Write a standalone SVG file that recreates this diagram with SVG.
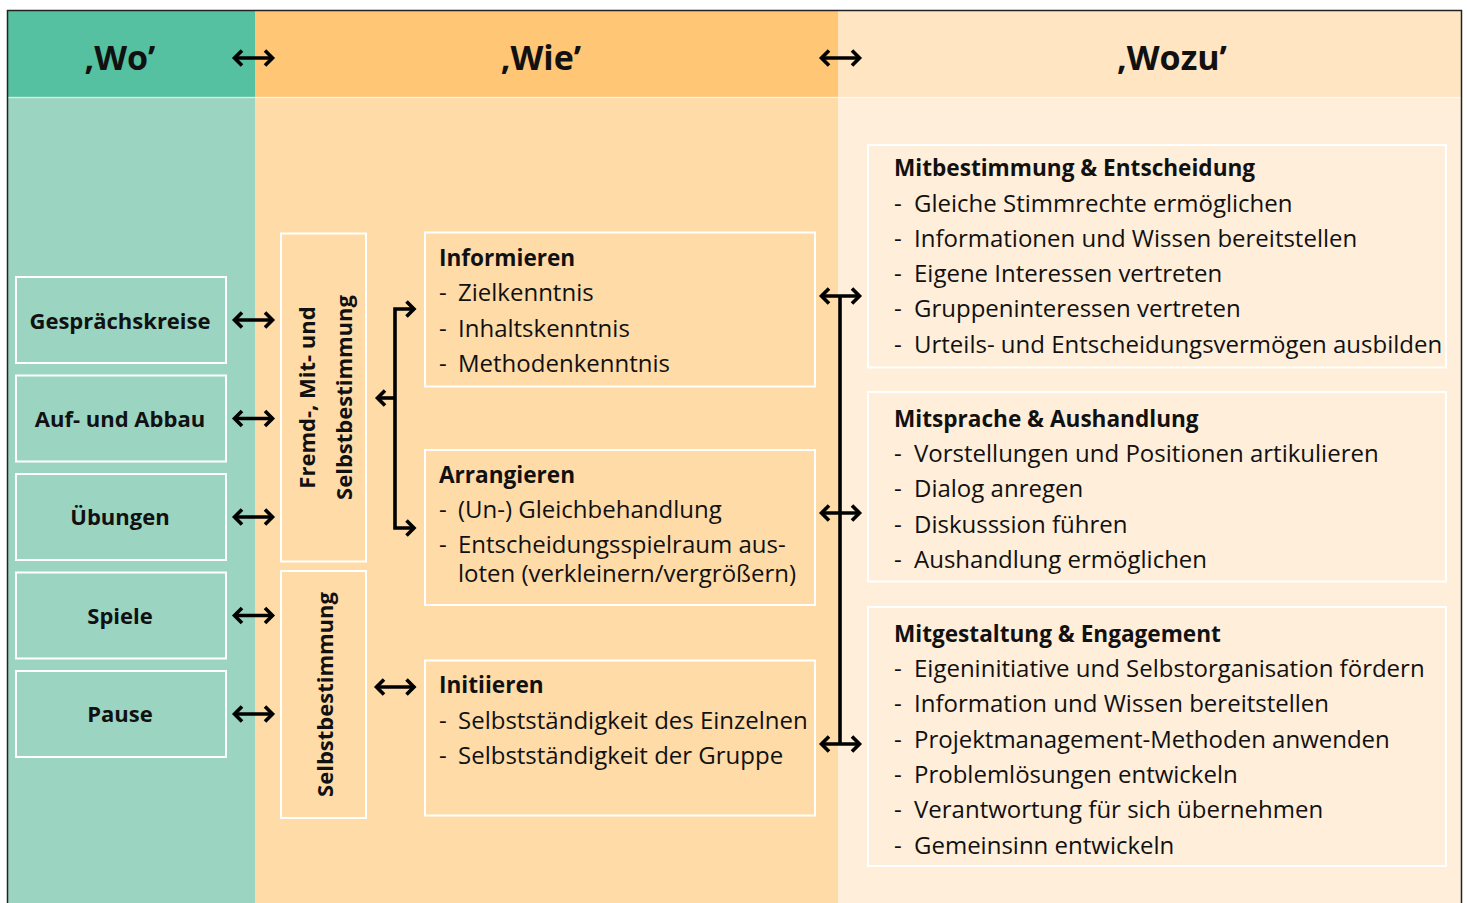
<svg xmlns="http://www.w3.org/2000/svg" width="1467" height="903" viewBox="0 0 1467 903">
<style>
text{font-family:"Open Sans","Noto Sans","Liberation Sans",sans-serif;fill:#111;}
.h{font-size:34px;font-weight:700;text-anchor:middle;}
.b{font-size:22px;font-weight:700;}
.bt{font-size:22.6px;font-weight:700;}
.c{text-anchor:middle;}
.t{font-size:24px;}
.box{fill:none;stroke:#fff;stroke-width:2;}
.con{fill:none;stroke:#000;stroke-width:3.6;}
.arr{marker-start:url(#ah);marker-end:url(#ah);}
</style>
<defs>
<marker id="ah" viewBox="0 0 12 18" refX="10" refY="9" markerWidth="12" markerHeight="18" markerUnits="userSpaceOnUse" orient="auto-start-reverse" overflow="visible">
<path d="M2.5,1.5 L10,9 L2.5,16.5" fill="none" stroke="#000" stroke-width="3.6"/>
</marker>
</defs>
<rect x="0" y="0" width="1467" height="903" fill="#fff"/>
<rect x="7.5" y="10.5" width="248" height="87" fill="#55C1A0"/>
<rect x="255" y="10.5" width="583" height="87" fill="#FFC675"/>
<rect x="838" y="10.5" width="623.5" height="87" fill="#FFE5C1"/>
<rect x="7.5" y="97.5" width="248" height="806" fill="#9BD4C1"/>
<rect x="255" y="97.5" width="583" height="806" fill="#FFDBA8"/>
<rect x="838" y="97.5" width="623.5" height="806" fill="#FFEED9"/>
<line x1="7.5" y1="97.5" x2="1461.5" y2="97.5" stroke="#fff" stroke-opacity="0.55" stroke-width="1.5"/>
<path d="M7.5,903 V10.5 H1461.5 V903" fill="none" stroke="#222" stroke-width="1.5"/>
<text class="h" x="120" y="70">‚Wo’</text>
<text class="h" x="541" y="70">‚Wie’</text>
<text class="h" x="1172" y="70">‚Wozu’</text>

<g id="gespraechskreise"><rect class="box" x="16" y="277" width="210" height="86"/><text class="b c" x="120" y="329">Gesprächskreise</text></g>
<g id="aufabbau"><rect class="box" x="16" y="375.5" width="210" height="86"/><text class="b c" x="120" y="427">Auf- und Abbau</text></g>
<g id="uebungen"><rect class="box" x="16" y="474" width="210" height="86"/><text class="b c" x="120" y="525">Übungen</text></g>
<g id="spiele"><rect class="box" x="16" y="572.5" width="210" height="86"/><text class="b c" x="120" y="624">Spiele</text></g>
<g id="pause"><rect class="box" x="16" y="671" width="210" height="86"/><text class="b c" x="120" y="722">Pause</text></g>

<g id="fremdmitselbst"><rect class="box" x="281" y="233.5" width="85" height="328"/>
<text class="b c" transform="translate(315,397.5) rotate(-90)">Fremd-, Mit- und</text>
<text class="b c" transform="translate(352,397.5) rotate(-90)">Selbstbestimmung</text></g>
<g id="selbstbestimmung"><rect class="box" x="281" y="571" width="85" height="247"/>
<text class="b c" transform="translate(333,694.5) rotate(-90)">Selbstbestimmung</text></g>

<g id="informieren"><rect class="box" x="425" y="232.5" width="390" height="154"/>
<text class="bt" x="439" y="266">Informieren</text>
<text class="t" x="439" y="301">-</text><text class="t" x="458" y="301">Zielkenntnis</text>
<text class="t" x="439" y="336.5">-</text><text class="t" x="458" y="336.5">Inhaltskenntnis</text>
<text class="t" x="439" y="372">-</text><text class="t" x="458" y="372">Methodenkenntnis</text></g>
<g id="arrangieren"><rect class="box" x="425" y="450" width="390" height="155"/>
<text class="bt" x="439" y="483">Arrangieren</text>
<text class="t" x="439" y="518">-</text><text class="t" x="458" y="518">(Un-) Gleichbehandlung</text>
<text class="t" x="439" y="553">-</text><text class="t" x="458" y="553">Entscheidungsspielraum aus-<tspan x="458" dy="29">loten (verkleinern/vergrößern)</tspan></text></g>
<g id="initiieren"><rect class="box" x="425" y="660.5" width="390" height="155"/>
<text class="bt" x="439" y="693">Initiieren</text>
<text class="t" x="439" y="729">-</text><text class="t" x="458" y="729">Selbstständigkeit des Einzelnen</text>
<text class="t" x="439" y="764">-</text><text class="t" x="458" y="764">Selbstständigkeit der Gruppe</text></g>

<g id="mitbestimmung"><rect class="box" x="868" y="145" width="578" height="222.5"/>
<text class="bt" x="894" y="176">Mitbestimmung &amp; Entscheidung</text>
<text class="t" x="894" y="212">-</text><text class="t" x="914" y="212">Gleiche Stimmrechte ermöglichen</text>
<text class="t" x="894" y="247">-</text><text class="t" x="914" y="247">Informationen und Wissen bereitstellen</text>
<text class="t" x="894" y="282">-</text><text class="t" x="914" y="282">Eigene Interessen vertreten</text>
<text class="t" x="894" y="317">-</text><text class="t" x="914" y="317">Gruppeninteressen vertreten</text>
<text class="t" x="894" y="353">-</text><text class="t" x="914" y="353">Urteils- und Entscheidungsvermögen ausbilden</text></g>
<g id="mitsprache"><rect class="box" x="868" y="392" width="578" height="189.5"/>
<text class="bt" x="894" y="427">Mitsprache &amp; Aushandlung</text>
<text class="t" x="894" y="462">-</text><text class="t" x="914" y="462">Vorstellungen und Positionen artikulieren</text>
<text class="t" x="894" y="497">-</text><text class="t" x="914" y="497">Dialog anregen</text>
<text class="t" x="894" y="533">-</text><text class="t" x="914" y="533">Diskusssion führen</text>
<text class="t" x="894" y="568">-</text><text class="t" x="914" y="568">Aushandlung ermöglichen</text></g>
<g id="mitgestaltung"><rect class="box" x="868" y="607" width="578" height="259"/>
<text class="bt" x="894" y="642">Mitgestaltung &amp; Engagement</text>
<text class="t" x="894" y="677">-</text><text class="t" x="914" y="677">Eigeninitiative und Selbstorganisation fördern</text>
<text class="t" x="894" y="712">-</text><text class="t" x="914" y="712">Information und Wissen bereitstellen</text>
<text class="t" x="894" y="748">-</text><text class="t" x="914" y="748">Projektmanagement-Methoden anwenden</text>
<text class="t" x="894" y="783">-</text><text class="t" x="914" y="783">Problemlösungen entwickeln</text>
<text class="t" x="894" y="818">-</text><text class="t" x="914" y="818">Verantwortung für sich übernehmen</text>
<text class="t" x="894" y="854">-</text><text class="t" x="914" y="854">Gemeinsinn entwickeln</text></g>

<g id="connectors">
<path class="con arr" d="M234.5,58 H272.5"/>
<path class="con arr" d="M821.5,58 H859.5"/>
<path class="con arr" d="M234.5,320 H272.5"/>
<path class="con arr" d="M234.5,418.5 H272.5"/>
<path class="con arr" d="M234.5,517 H272.5"/>
<path class="con arr" d="M234.5,615.5 H272.5"/>
<path class="con arr" d="M234.5,714 H272.5"/>
<path class="con arr" d="M414,309 H395 V528 H414"/>
<path class="con" d="M395,398 H377.5" marker-end="url(#ah)"/>
<path class="con arr" d="M376.5,687 H414"/>
<path class="con" d="M840,296 V744"/>
<path class="con arr" d="M821.5,296 H859.5"/>
<path class="con arr" d="M821.5,513 H859.5"/>
<path class="con arr" d="M821.5,744 H859.5"/>
</g>
</svg>
